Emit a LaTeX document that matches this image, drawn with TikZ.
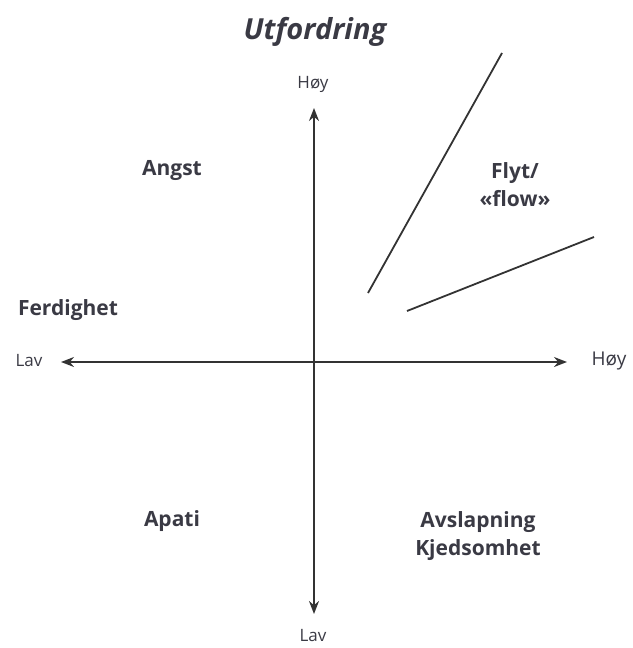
\documentclass[tikz,border=0pt]{standalone}
\usepackage{fontspec}
\setmainfont{Open Sans}
\usepackage{xcolor}
\usetikzlibrary{arrows.meta}
\definecolor{axisgray}{HTML}{333333}
\definecolor{textgray}{HTML}{3A3A44}

\tikzset{
  zonelabel/.style={text=textgray, font=\bfseries\fontsize{21}{28}\selectfont, align=center},
  endlabel/.style={text=textgray, font=\fontsize{17}{20}\selectfont},
  axisline/.style={draw=axisgray, line width=1.8pt, -{Stealth[length=13pt, width=10pt]}},
  flowline/.style={draw=axisgray, line width=1.8pt}
}

\begin{document}
\begin{tikzpicture}[x=1pt, y=-1pt]
    \useasboundingbox (0,0) rectangle (632,648);
    % title
    \node[text=textgray, font=\bfseries\itshape\fontsize{29}{34}\selectfont] (title) at (315,32) {Utfordring};
    % axis ends
    \node[endlabel] (top) at (313,84) {Høy};
    \node[endlabel] (bottom) at (313,636) {Lav};
    \node[endlabel] (left) at (29,361) {Lav};
    \node[endlabel, font=\fontsize{19}{22}\selectfont] (right) at (609,361) {Høy};
    \coordinate (origin) at (314,362);
    \coordinate (ytip) at (314,108);
    \coordinate (ybot) at (314,614);
    \coordinate (xtip) at (567,362);
    \coordinate (xbot) at (61,362);
    \draw[axisline] (origin) -- (ytip);
    \draw[axisline] (origin) -- (ybot);
    \draw[axisline] (origin) -- (xtip);
    \draw[axisline] (origin) -- (xbot);
    % flow channel
    \coordinate (upperA) at (368,293);
    \coordinate (upperB) at (502,53);
    \coordinate (lowerA) at (407,311);
    \coordinate (lowerB) at (594,237);
    \draw[flowline] (upperA) -- (upperB);
    \draw[flowline] (lowerA) -- (lowerB);
    % zones
    \node[zonelabel] (angst) at (172,170) {Angst};
    \node[zonelabel] (flyt) at (515,185) {Flyt/\\«flow»};
    \node[zonelabel] (ferdighet) at (68,310) {Ferdighet};
    \node[zonelabel] (apati) at (172,521) {Apati};
    \node[zonelabel] (avslapning) at (478,536) {Avslapning\\Kjedsomhet};
\end{tikzpicture}
\end{document}
